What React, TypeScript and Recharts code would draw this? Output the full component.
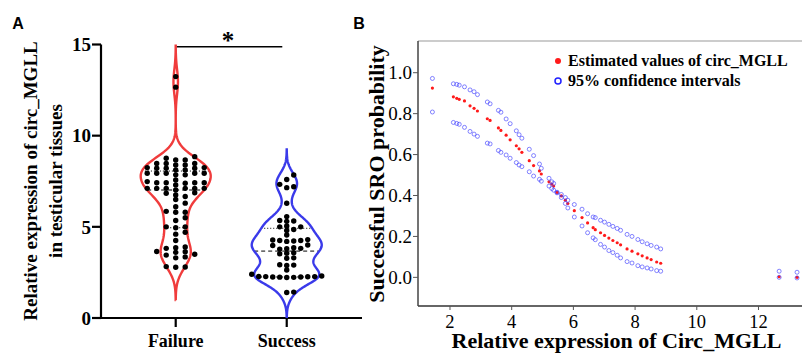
import React from "react"
import { ScatterChart, Scatter, XAxis, YAxis, ReferenceLine, Legend } from "recharts"

const SERIF = '"Liberation Serif", "Times New Roman", serif'
const SANS = '"Liberation Sans", Arial, sans-serif'
const RED = "#f03c3c"
const BLUE = "#3a3aea"

// ---- panel A: circ_MGLL expression by outcome
const groups = ["Failure", "Success"]
const failureValues = [
  13.24, 12.66,
  8.85, 8.76, 8.67, 8.67, 8.48, 8.48, 8.48, 8.39, 8.39, 8.25, 8.25, 8.21, 8.21, 8.21, 8.12, 8.12,
  7.94, 7.94, 7.94, 7.94, 7.94, 7.85, 7.85, 7.57, 7.48, 7.42, 7.42, 7.42, 7.42, 7.39, 7.3,
  7.11, 7.11, 7.11, 7.11, 7.11, 7.11, 7.02, 6.87, 6.84, 6.75, 6.66,
  6.5, 6.3, 6.1, 5.85, 5.8, 5.8, 5.5, 5.35, 5.0, 5.0, 4.95, 4.7, 4.6, 4.25,
  3.9, 3.85, 3.82, 3.65, 3.64, 3.6, 3.5, 3.45, 3.35, 3.3, 2.82, 2.8, 2.78,
]
const successValues = [
  7.84, 7.6, 7.33, 7.2, 7.15, 6.29,
  5.56, 5.35, 5.32, 5.3, 5.05, 5.0, 5.0, 4.85, 4.8, 4.55,
  4.3, 4.28, 4.25, 4.25, 4.22, 4.2, 4.0, 3.98, 3.85, 3.82, 3.8, 3.78,
  3.58, 3.55, 3.52, 3.3, 3.28, 2.92, 2.9, 2.88, 2.63,
  2.4, 2.3, 2.28, 2.27, 2.27, 2.26, 2.25, 2.25, 2.24, 2.23, 2.22,
  1.42, 1.4,
]
// [Q1, median, Q3] as drawn inside the violins
const failureQuartiles = [4.95, 7.02, 8.06]
const successQuartiles = [2.25, 3.67, 4.92]
const yTicksA = [0, 5, 10, 15]

// ---- panel B: logistic estimate with 95% CI
const probX = [
  1.43, 2.11, 2.22, 2.3, 2.47, 2.65, 2.78, 2.89, 3.21, 3.3, 3.57, 3.65, 3.82, 3.95, 4.15, 4.24,
  4.33, 4.57, 4.71, 4.9, 4.96, 5.21, 5.3, 5.36, 5.47, 5.61, 5.74, 5.82, 6.03, 6.28, 6.46, 6.64,
  6.71, 6.88, 7.01, 7.15, 7.28, 7.42, 7.53, 7.74, 7.9, 8.09, 8.23, 8.39, 8.52, 8.7, 8.83, 12.67, 13.25,
]
const probEst = [
  0.925, 0.882, 0.875, 0.87, 0.862, 0.838, 0.826, 0.813, 0.775, 0.767, 0.73, 0.718, 0.695, 0.672, 0.643, 0.628,
  0.611, 0.57, 0.546, 0.52, 0.505, 0.467, 0.456, 0.446, 0.415, 0.398, 0.377, 0.361, 0.326, 0.292, 0.266, 0.243,
  0.233, 0.218, 0.205, 0.192, 0.18, 0.169, 0.159, 0.139, 0.128, 0.115, 0.105, 0.095, 0.087, 0.075, 0.069, 0.003, 0.0,
]
const probHi = [
  0.972, 0.946, 0.943, 0.939, 0.931, 0.916, 0.907, 0.893, 0.857, 0.848, 0.816, 0.807, 0.774, 0.751, 0.716, 0.697,
  0.68, 0.626, 0.595, 0.554, 0.533, 0.484, 0.467, 0.459, 0.416, 0.405, 0.39, 0.377, 0.356, 0.333, 0.311, 0.295,
  0.292, 0.279, 0.27, 0.259, 0.249, 0.239, 0.23, 0.21, 0.2, 0.185, 0.174, 0.164, 0.156, 0.148, 0.139, 0.03, 0.025,
]
const probLo = [
  0.808, 0.757, 0.752, 0.748, 0.733, 0.713, 0.7, 0.689, 0.656, 0.652, 0.62, 0.611, 0.598, 0.582, 0.561, 0.549,
  0.541, 0.516, 0.495, 0.479, 0.47, 0.446, 0.434, 0.426, 0.413, 0.39, 0.361, 0.339, 0.295, 0.251, 0.218, 0.193,
  0.184, 0.161, 0.148, 0.131, 0.121, 0.108, 0.095, 0.077, 0.07, 0.057, 0.051, 0.046, 0.041, 0.033, 0.03, 0.0, -0.003,
]
const xTicksB = [2, 4, 6, 8, 10, 12]
const yTicksB = [0, 0.2, 0.4, 0.6, 0.8, 1.0]

const density = (vals: number[], bw: number, y: number) =>
  vals.reduce((s, v) => s + Math.exp(-0.5 * ((y - v) / bw) ** 2), 0)

// gaussian kde outline, normalised to a fixed half width (x units)
function violin(vals: number[], center: number, bw: number, halfW: number) {
  const lo = Math.min(...vals) - 3 * bw
  const hi = Math.max(...vals) + 3 * bw
  const n = 200
  const ys = Array.from({ length: n + 1 }, (_, i) => lo + ((hi - lo) * i) / n)
  const d = ys.map((y) => density(vals, bw, y))
  const max = Math.max(...d)
  const right = ys.map((y, i) => ({ x: center + (halfW * d[i]) / max, y }))
  const left = ys.map((y, i) => ({ x: center - (halfW * d[i]) / max, y })).reverse()
  return {
    outline: [...right, ...left, right[0]],
    widthAt: (y: number) => (halfW * density(vals, bw, y)) / max,
  }
}

// grid-column beeswarm like prism's scatter
function swarm(vals: number[], center: number, step: number, maxCol: number, minDy: number) {
  const cols: Record<number, number[]> = {}
  const order: number[] = [0]
  for (let k = 1; k <= maxCol; k++) order.push(k, -k)
  return [...vals].sort((a, b) => a - b).map((v) => {
    let best = 0
    let bestGap = -1
    for (const c of order) {
      const used = cols[c] || []
      const gap = used.length ? Math.min(...used.map((u) => Math.abs(u - v))) : Infinity
      if (gap >= minDy) { best = c; bestGap = gap; break }
      if (gap > bestGap) { best = c; bestGap = gap }
    }
    ;(cols[best] = cols[best] || []).push(v)
    return { x: center + best * step, y: v }
  })
}

const pxPerX = 111
const failV = violin(failureValues, 1, 0.6, 35 / pxPerX)
const succV = violin(successValues, 2, 0.47, 35 / pxPerX)
const failDots = swarm(failureValues, 1, 9.5 / pxPerX, 3, 0.25)
const succDots = swarm(successValues, 2, 7 / pxPerX, 5, 0.25)

const estData = probX.map((x, i) => ({ x, y: probEst[i] }))
const hiData = probX.map((x, i) => ({ x, y: probHi[i] }))
const loData = probX.map((x, i) => ({ x, y: probLo[i] }))

const dot = (p: any) => <circle cx={p.cx} cy={p.cy} r={2.7} fill="#000" />
const noShape = () => <g />
const redDot = (p: any) => <circle cx={p.cx} cy={p.cy} r={1.6} fill="#ff1a1a" />
const ring = (p: any) => (
  <circle cx={p.cx} cy={p.cy} r={2} fill="none" stroke="#3d3dff" strokeOpacity={0.7} strokeWidth={0.9} />
)

function quartileLines(q: number[], center: number, widthAt: (y: number) => number) {
  return q.map((y, i) => {
    const w = widthAt(y)
    return (
      <ReferenceLine
        key={`${center}-${i}`}
        segment={[{ x: center - w, y }, { x: center + w, y }]}
        stroke="#000"
        strokeWidth={1}
        strokeDasharray={i === 1 ? "4 3" : "1 2"}
      />
    )
  })
}

const axisA = { stroke: "#000", strokeWidth: 2.2 }

export default function App() {
  return (
    <div style={{ position: "absolute", left: 0, top: 0, width: 802, height: 353, overflow: "hidden", background: "#fff" }}>
      <div style={{ position: "absolute", left: 0, top: 0 }}>
        <ScatterChart width={370} height={353} margin={{ top: 44.5, right: 8, bottom: 5, left: 41 }}>
          <XAxis
            type="number" dataKey="x" domain={[0.327, 2.678]} allowDataOverflow ticks={[1, 2]} interval={0}
            tickFormatter={(v) => groups[Math.round(v) - 1]} height={30} tickSize={9} tickMargin={7}
            axisLine={axisA} tickLine={axisA}
            tick={{ fill: "#000", fontSize: 18, fontWeight: 700, fontFamily: SERIF }}
          />
          <YAxis
            type="number" dataKey="y" domain={[0, 15]} allowDataOverflow ticks={yTicksA} interval={0}
            width={60} tickSize={9} tickMargin={1} axisLine={axisA} tickLine={axisA}
            tick={{ fill: "#000", fontSize: 19, fontWeight: 700, fontFamily: SERIF }}
            label={() => (
              <g fontFamily={SERIF} fontWeight={700} fontSize={19} fill="#000">
                <text transform="translate(30,181) rotate(-90)" textAnchor="middle" dominantBaseline="central">
                  Relative expression of circ_MGLL
                </text>
                <text transform="translate(55,181) rotate(-90)" textAnchor="middle" dominantBaseline="central">
                  in testicular tissues
                </text>
              </g>
            )}
          />
          <Scatter data={failV.outline} line={{ stroke: RED, strokeWidth: 2.4 }} lineType="joint" shape={noShape} isAnimationActive={false} />
          <Scatter data={succV.outline} line={{ stroke: BLUE, strokeWidth: 2.4 }} lineType="joint" shape={noShape} isAnimationActive={false} />
          {quartileLines(failureQuartiles, 1, failV.widthAt)}
          {quartileLines(successQuartiles, 2, succV.widthAt)}
          <Scatter data={failDots} shape={dot} isAnimationActive={false} />
          <Scatter data={succDots} shape={dot} isAnimationActive={false} />
          <ReferenceLine segment={[{ x: 1, y: 14.88 }, { x: 1.96, y: 14.88 }]} stroke="#000" strokeWidth={1.5} />
        </ScatterChart>
      </div>

      <div style={{ position: "absolute", left: 340, top: 0 }}>
        <ScatterChart width={470} height={353} margin={{ top: 41, right: 7, bottom: 0, left: 18 }}>
          <XAxis
            type="number" dataKey="x" domain={[0.963, 13.443]} allowDataOverflow ticks={xTicksB} interval={0}
            height={47} tickSize={4} tickMargin={5}
            axisLine={{ stroke: "#333", strokeWidth: 1.5 }} tickLine={{ stroke: "#555" }}
            tick={{ fill: "#000", fontSize: 18.5, fontFamily: SERIF }}
            label={() => (
              <text x={276.5} y={348} textAnchor="middle" fontFamily={SERIF} fontWeight={700} fontSize={22} fill="#000">
                Relative expression of Circ_MGLL
              </text>
            )}
          />
          <YAxis
            type="number" dataKey="y" domain={[-0.14, 1.155]} allowDataOverflow ticks={yTicksB} interval={0}
            width={60} tickSize={5} tickMargin={1} tickFormatter={(v) => Number(v).toFixed(1)}
            axisLine={{ stroke: "#444", strokeWidth: 1.5 }} tickLine={{ stroke: "#555" }}
            tick={{ fill: "#000", fontSize: 19, fontFamily: SERIF }}
            label={() => (
              <text transform="translate(36,174) rotate(-90)" textAnchor="middle" dominantBaseline="central"
                fontFamily={SERIF} fontWeight={700} fontSize={22} fill="#000">
                Successful SRO probability
              </text>
            )}
          />
          <ReferenceLine y={1.155} stroke="#999" strokeWidth={1.2} />
          <Scatter data={estData} shape={redDot} isAnimationActive={false} />
          <Scatter data={hiData} shape={ring} isAnimationActive={false} />
          <Scatter data={loData} shape={ring} isAnimationActive={false} />
          <Legend
            layout="vertical" align="center" verticalAlign="middle"
            wrapperStyle={{ left: 213, top: 51, width: 260, height: 40 }}
            content={() => (
              <div style={{ fontFamily: SERIF, fontWeight: 700, fontSize: 16, lineHeight: "20px", color: "#000" }}>
                <div style={{ display: "flex", alignItems: "center" }}>
                  <svg width={10} height={10}><circle cx={5} cy={5} r={3} fill="#ff1a1a" /></svg>
                  <span style={{ marginLeft: 5 }}>Estimated values of circ_MGLL</span>
                </div>
                <div style={{ display: "flex", alignItems: "center" }}>
                  <svg width={10} height={10}><circle cx={5} cy={5} r={3} fill="none" stroke="#2020ff" strokeWidth={1.5} /></svg>
                  <span style={{ marginLeft: 5 }}>95% confidence intervals</span>
                </div>
              </div>
            )}
          />
        </ScatterChart>
      </div>

      <svg width={802} height={353} style={{ position: "absolute", left: 0, top: 0, pointerEvents: "none" }}>
        <text x={18} y={28.5} textAnchor="middle" fontFamily={SANS} fontWeight={700} fontSize={16}>A</text>
        <text x={359} y={28.5} textAnchor="middle" fontFamily={SANS} fontWeight={700} fontSize={16}>B</text>
        <text x={228} y={49} textAnchor="middle" fontFamily={SERIF} fontWeight={700} fontSize={25}>*</text>
      </svg>
    </div>
  )
}
